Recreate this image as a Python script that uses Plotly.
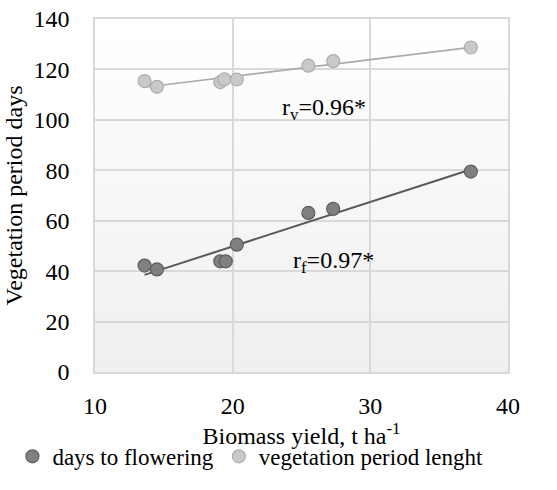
import numpy as np
import plotly.graph_objects as go

# Data
yield_veg = [13.6, 14.5, 19.1, 19.4, 20.3, 25.5, 27.3, 37.3]
veg_days = [115.4, 113.1, 115.0, 116.1, 116.0, 121.5, 123.3, 128.7]
yield_flw = [13.6, 14.5, 19.1, 19.5, 20.3, 25.5, 27.3, 37.3]
flw_days = [42.2, 40.7, 43.9, 43.9, 50.5, 63.1, 64.7, 79.5]

x_ticks = [10, 20, 30, 40]
y_ticks = [0, 20, 40, 60, 80, 100, 120, 140]

FONT = "Liberation Serif"
FS = 24
LFS = 23

def trend(xs, ys):
    k, b = np.polyfit(xs, ys, 1)
    xx = np.array([min(xs), max(xs)])
    return xx, k * xx + b

fig = go.Figure()

tx, ty = trend(yield_flw, flw_days)
fig.add_trace(go.Scatter(x=tx, y=ty, mode="lines", line=dict(color="#595959", width=2),
                         showlegend=False, hoverinfo="skip"))
tx, ty = trend(yield_veg, veg_days)
fig.add_trace(go.Scatter(x=tx, y=ty, mode="lines", line=dict(color="#ababab", width=1.6),
                         showlegend=False, hoverinfo="skip"))

fig.add_trace(go.Scatter(x=yield_flw, y=flw_days, mode="markers", name="days to flowering",
                         marker=dict(size=13, color="#808080", line=dict(color="#5e5e5e", width=1.2))))
fig.add_trace(go.Scatter(x=yield_veg, y=veg_days, mode="markers", name="vegetation period lenght",
                         marker=dict(size=13, color="#c9c9c9", line=dict(color="#adadad", width=1.2))))

# gradient background of plot area (white at top to light grey at bottom)
n = 40
shapes = []
for i in range(n):
    t = i / (n - 1)
    v = int(round(255 - 16 * (1 - t)))
    shapes.append(dict(type="rect", xref="x domain", yref="y domain",
                       x0=0, x1=1, y0=i / n, y1=(i + 1) / n,
                       fillcolor=f"rgb({v},{v},{v})", line=dict(width=0), layer="below"))

fig.update_layout(
    width=557, height=490,
    margin=dict(l=94, r=49, t=19, b=114),
    paper_bgcolor="white", plot_bgcolor="white",
    shapes=shapes,
    showlegend=True,
    legend=dict(orientation="h", x=-0.2, xanchor="left",
                y=-0.30, yanchor="bottom",
                font=dict(family=FONT, size=LFS, color="black"), itemwidth=30, tracegroupgap=0,
                bgcolor="rgba(0,0,0,0)"),
    annotations=[
        dict(x=26.6, y=104.3, xref="x", yref="y", text="r<sub>v</sub>=0.96*", showarrow=False,
             font=dict(family=FONT, size=FS, color="black")),
        dict(x=27.3, y=43.5, xref="x", yref="y", text="r<sub>f</sub>=0.97*", showarrow=False,
             font=dict(family=FONT, size=FS, color="black")),
    ],
)

fig.update_xaxes(range=[10, 40], tickvals=x_ticks, showgrid=True, gridcolor="#d9d9d9", gridwidth=1.5,
                 zeroline=False, showline=True, linecolor="#d9d9d9", linewidth=1.5, mirror=True,
                 ticks="outside", ticklen=11, tickcolor="rgba(0,0,0,0)", automargin=False,
                 tickfont=dict(family=FONT, size=FS, color="black"),
                 title=dict(text="Biomass yield, t ha<sup>-1</sup>", standoff=6,
                            font=dict(family=FONT, size=FS, color="black")))
fig.update_yaxes(range=[0, 140], tickvals=y_ticks, showgrid=True, gridcolor="#d9d9d9", gridwidth=1.5,
                 zeroline=False, showline=True, linecolor="#d9d9d9", linewidth=1.5, mirror=True,
                 ticks="outside", ticklen=19, tickcolor="rgba(0,0,0,0)", automargin=False,
                 tickfont=dict(family=FONT, size=FS, color="black"),
                 title=dict(text="Vegetation period days", standoff=4,
                            font=dict(family=FONT, size=FS, color="black")))

fig.write_html("out.html")
